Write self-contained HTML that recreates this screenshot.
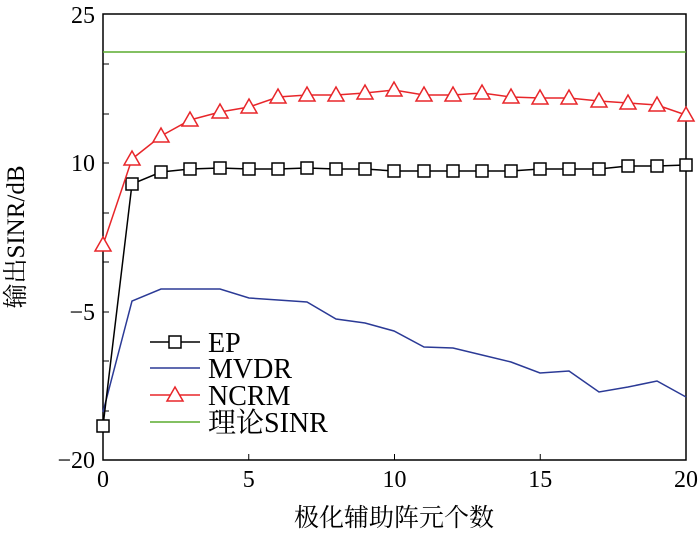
<!DOCTYPE html>
<html><head><meta charset="utf-8"><style>body{margin:0;background:#fff}</style></head><body>
<svg width="700" height="538" xmlns="http://www.w3.org/2000/svg" font-family="'Liberation Serif','Noto Serif CJK SC',serif">
<rect x="103" y="14" width="583" height="446" fill="none" stroke="#000" stroke-width="1.5"/>
<g stroke="#000" stroke-width="1">
<line x1="103" y1="64" x2="109" y2="64"/><line x1="103" y1="114" x2="109" y2="114"/><line x1="103" y1="163" x2="109" y2="163"/>
<line x1="103" y1="213" x2="109" y2="213"/><line x1="103" y1="262" x2="109" y2="262"/><line x1="103" y1="312" x2="109" y2="312"/>
<line x1="103" y1="361" x2="109" y2="361"/><line x1="103" y1="411" x2="109" y2="411"/>
<line x1="248.75" y1="460" x2="248.75" y2="454"/><line x1="394.5" y1="460" x2="394.5" y2="454"/><line x1="540.25" y1="460" x2="540.25" y2="454"/>
</g>
<g font-size="24" text-anchor="end"><text x="95" y="23">25</text><text x="95" y="171">10</text><text x="95" y="320">−5</text><text x="95" y="468">−20</text></g>
<g font-size="24" text-anchor="middle"><text x="103" y="487">0</text><text x="248.75" y="487">5</text><text x="394.5" y="487">10</text><text x="540.25" y="487">15</text><text x="686" y="487">20</text></g>
<text x="394" y="526" font-size="25" text-anchor="middle">极化辅助阵元个数</text>
<text transform="translate(24,237) rotate(-90)" font-size="25" text-anchor="middle">输出SINR/dB</text>
<line x1="103" y1="52" x2="686" y2="52" stroke="#5aab2e" stroke-width="1.5"/>
<polyline fill="none" stroke="#2b3a96" stroke-width="1.5" points="103,412 132,301 161,289 190,289 220,289 249,298 278,300 307,302 336,319 365,323 394,331 424,347 453,348 482,355 511,362 540,373 569,371 599,392 628,387 657,381 686,397"/>
<polyline fill="none" stroke="#000" stroke-width="1.5" points="103,426 132,184 161,172 190,169 220,168 249,169 278,169 307,168 336,169 365,169 394,171 424,171 453,171 482,171 511,171 540,169 569,169 599,169 628,166 657,166 686,165"/>
<g fill="#fff" stroke="#000" stroke-width="1.5">
<rect x="97" y="420" width="12" height="12"/><rect x="126" y="178" width="12" height="12"/><rect x="155" y="166" width="12" height="12"/><rect x="184" y="163" width="12" height="12"/><rect x="214" y="162" width="12" height="12"/><rect x="243" y="163" width="12" height="12"/><rect x="272" y="163" width="12" height="12"/><rect x="301" y="162" width="12" height="12"/><rect x="330" y="163" width="12" height="12"/><rect x="359" y="163" width="12" height="12"/><rect x="388" y="165" width="12" height="12"/><rect x="418" y="165" width="12" height="12"/><rect x="447" y="165" width="12" height="12"/><rect x="476" y="165" width="12" height="12"/><rect x="505" y="165" width="12" height="12"/><rect x="534" y="163" width="12" height="12"/><rect x="563" y="163" width="12" height="12"/><rect x="593" y="163" width="12" height="12"/><rect x="622" y="160" width="12" height="12"/><rect x="651" y="160" width="12" height="12"/><rect x="680" y="159" width="12" height="12"/>
</g>
<polyline fill="none" stroke="#e8262a" stroke-width="1.5" points="103,245 132,159 161,136 190,120 220,112 249,107 278,97 307,95 336,95 365,93 394,90 424,95 453,95 482,93 511,97 540,98 569,98 599,101 628,103 657,105 686,115"/>
<g fill="#fff" stroke="#e8262a" stroke-width="1.5">
<path d="M103,237 l8,14 h-16z"/><path d="M132,151 l8,14 h-16z"/><path d="M161,128 l8,14 h-16z"/><path d="M190,112 l8,14 h-16z"/><path d="M220,104 l8,14 h-16z"/><path d="M249,99 l8,14 h-16z"/><path d="M278,89 l8,14 h-16z"/><path d="M307,87 l8,14 h-16z"/><path d="M336,87 l8,14 h-16z"/><path d="M365,85 l8,14 h-16z"/><path d="M394,82 l8,14 h-16z"/><path d="M424,87 l8,14 h-16z"/><path d="M453,87 l8,14 h-16z"/><path d="M482,85 l8,14 h-16z"/><path d="M511,89 l8,14 h-16z"/><path d="M540,90 l8,14 h-16z"/><path d="M569,90 l8,14 h-16z"/><path d="M599,93 l8,14 h-16z"/><path d="M628,95 l8,14 h-16z"/><path d="M657,97 l8,14 h-16z"/><path d="M686,107 l8,14 h-16z"/>
</g>
<g font-size="28">
<line x1="150" y1="342" x2="200" y2="342" stroke="#000" stroke-width="1.5"/><rect x="169" y="336" width="12" height="12" fill="#fff" stroke="#000" stroke-width="1.5"/><text x="208" y="352">EP</text>
<line x1="150" y1="368" x2="200" y2="368" stroke="#2b3a96" stroke-width="1.5"/><text x="208" y="378">MVDR</text>
<line x1="150" y1="395" x2="200" y2="395" stroke="#e8262a" stroke-width="1.5"/><path d="M175,387 l8,14 h-16z" fill="#fff" stroke="#e8262a" stroke-width="1.5"/><text x="208" y="405">NCRM</text>
<line x1="150" y1="422" x2="200" y2="422" stroke="#5aab2e" stroke-width="1.5"/><text x="208" y="432">理论SINR</text>
</g>
</svg>
</body></html>
